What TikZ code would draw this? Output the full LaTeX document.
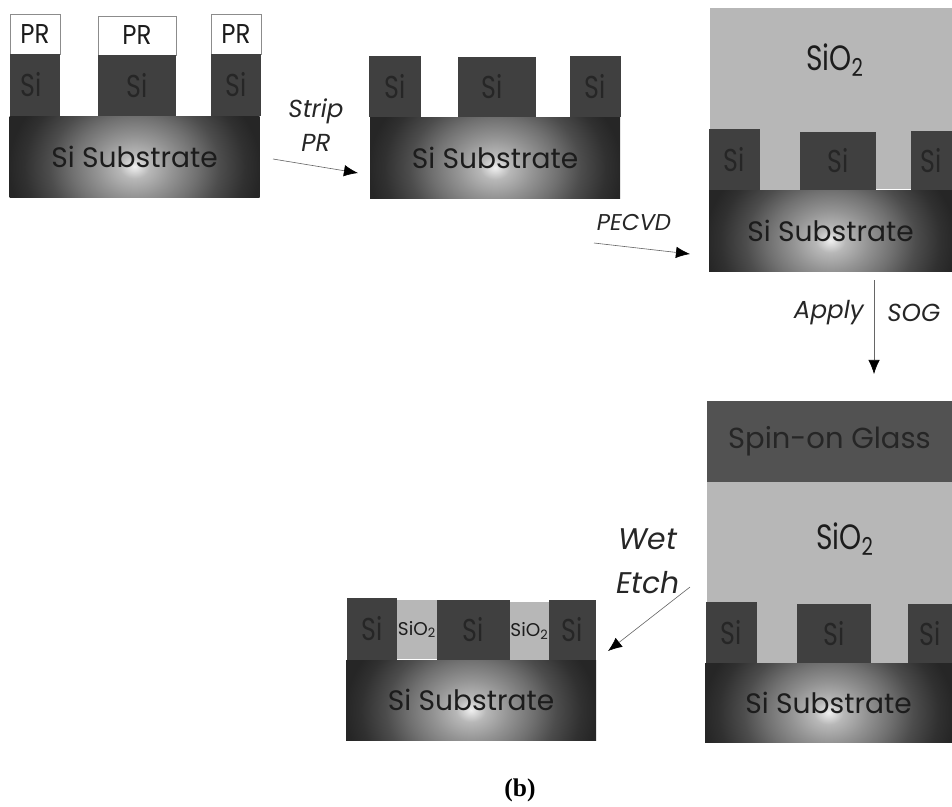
\documentclass[tikz,border=0pt]{standalone}
\usepackage{fontspec}
\setmainfont{Poppins}
\newfontfamily\tallfont{Poppins}[FakeStretch=0.8]
\newfontfamily\midfont{Poppins}[FakeStretch=0.9]
\newfontfamily\capfont{Liberation Serif}
\usepackage{xcolor}
\usetikzlibrary{arrows.meta}
\definecolor{sidark}{HTML}{404040}
\definecolor{oxgray}{HTML}{B7B7B7}
\definecolor{soggray}{HTML}{525252}
\definecolor{inkdark}{HTML}{1C1C1C}
\definecolor{inkdim}{HTML}{262626}
\pgfdeclareradialshading{subglow}{\pgfpoint{0bp}{0bp}}{%
  color(0bp)=(white!94!black);
  color(3bp)=(white!72!black);
  color(7.5bp)=(white!58!black);
  color(12.5bp)=(white!44!black);
  color(17bp)=(white!30!black);
  color(22bp)=(white!19!black);
  color(25bp)=(white!15!black);
  color(50bp)=(white!15!black)}
\tikzset{
  sibox/.style={fill=sidark},
  prbox/.style={draw=black!45, line width=0.3pt, fill=white},
  oxbox/.style={fill=oxgray},
  sogbox/.style={fill=soggray},
  subbox/.style={path picture={\shade[shading=subglow]
    ([yshift=-0.2cm]path picture bounding box.center) ++(-125,-100) rectangle ++(250,200);}},
  prlbl/.style={font=\midfont\fontsize{15.5}{18}\selectfont, text=inkdark, inner sep=0pt},
  silbl/.style={font=\tallfont\fontsize{18}{20}\selectfont, text=inkdim, inner sep=0pt},
  oxlbl/.style={font=\tallfont\fontsize{20}{22}\selectfont, text=inkdark, inner sep=0pt},
  sublbl/.style={font=\fontsize{16}{18}\selectfont, text=inkdark, inner sep=0pt},
  soglbl/.style={font=\fontsize{16.5}{18}\selectfont, text=inkdim, inner sep=0pt},
  smalllbl/.style={font=\fontsize{10.5}{12}\selectfont, text=inkdark, inner sep=0pt},
  steplbl/.style={font=\itshape\fontsize{14}{19}\selectfont, text=black!85, inner sep=0pt, align=center},
  flowarrow/.style={-{Latex[length=8pt,width=6.5pt,black]}, line width=0.35pt, draw=black!60},
}
\begin{document}
\begin{tikzpicture}[x=0.02cm, y=-0.02cm]
  \useasboundingbox (0,0) rectangle (952,806);

  % resist on silicon
  \filldraw[prbox] (10,14) rectangle (60,54) node[midway, prlbl] (prA) {PR};
  \filldraw[prbox] (98,16) rectangle (176,55) node[midway, prlbl] (prB) {PR};
  \filldraw[prbox] (211,14) rectangle (261,54) node[midway, prlbl] (prC) {PR};
  \fill[sibox] (10,54) rectangle (60,116) node[midway, silbl, xshift=-0.08cm] (siA) {Si};
  \fill[sibox] (98,55) rectangle (176,116) node[midway, silbl] (siB) {Si};
  \fill[sibox] (211,54) rectangle (261,116) node[midway, silbl] (siC) {Si};
  \path[subbox] (9,116) rectangle (260,197) node[midway, sublbl] (subA) {Si Substrate};

  % resist stripped
  \fill[sibox] (369,56) rectangle (421,117) node[midway, silbl] (siD) {Si};
  \fill[sibox] (458,57) rectangle (536,117) node[midway, silbl, xshift=-0.1cm] (siE) {Si};
  \fill[sibox] (570,56) rectangle (621,117) node[midway, silbl] (siF) {Si};
  \path[subbox] (369,117) rectangle (621,198) node[midway, sublbl] (subB) {Si Substrate};

  % oxide deposited
  \fill[oxbox] (710,8) rectangle (952,134);
  \node[oxlbl] (oxA) at (835,60) {SiO\textsubscript{2}};
  \fill[oxbox] (760,129) rectangle (800,190);
  \fill[oxbox] (876,129) rectangle (911,189);
  \fill[sibox] (709,129) rectangle (760,190) node[midway, silbl] (siG) {Si};
  \fill[sibox] (800,132) rectangle (876,190) node[midway, silbl] (siH) {Si};
  \fill[sibox] (911,131) rectangle (952,190) node[midway, silbl] (siI) {Si};
  \path[subbox] (709,190) rectangle (952,271) node[midway, sublbl] (subC) {Si Substrate};

  % spin-on glass on top
  \fill[sogbox] (707,401) rectangle (952,482) node[midway, soglbl] (sog) {Spin-on Glass};
  \fill[oxbox] (707,482) rectangle (952,604);
  \node[oxlbl] (oxB) at (845,539) {SiO\textsubscript{2}};
  \fill[oxbox] (757,602) rectangle (797,663);
  \fill[oxbox] (871,602) rectangle (908,663);
  \fill[sibox] (706,602) rectangle (757,663) node[midway, silbl] (siJ) {Si};
  \fill[sibox] (797,604) rectangle (871,663) node[midway, silbl] (siK) {Si};
  \fill[sibox] (908,604) rectangle (952,663) node[midway, silbl] (siL) {Si};
  \path[subbox] (705,663) rectangle (952,742) node[midway, sublbl] (subD) {Si Substrate};

  % after wet etch
  \fill[sibox] (347,598) rectangle (397,660) node[midway, silbl] (siM) {Si};
  \fill[oxbox] (397,600) rectangle (437,659) node[midway, smalllbl] (oxC) {SiO\textsubscript{2}};
  \fill[sibox] (437,600) rectangle (510,660) node[midway, silbl] (siN) {Si};
  \fill[oxbox] (510,602) rectangle (549,660) node[midway, smalllbl] (oxD) {SiO\textsubscript{2}};
  \fill[sibox] (549,600) rectangle (596,660) node[midway, silbl] (siO) {Si};
  \path[subbox] (346,660) rectangle (596,740) node[midway, sublbl] (subE) {Si Substrate};

  % process steps
  \coordinate (stripA) at (273,159);
  \coordinate (stripB) at (358,173);
  \draw[flowarrow] (stripA) -- (stripB);
  \node[steplbl] (strip) at (316,125) {Strip\\PR};

  \coordinate (pecvdA) at (594,243);
  \coordinate (pecvdB) at (690,254);
  \draw[flowarrow] (pecvdA) -- (pecvdB);
  \node[steplbl, font=\itshape\fontsize{13}{15}\selectfont] (pecvd) at (634,222) {PECVD};

  \coordinate (applyA) at (874,280);
  \coordinate (applyB) at (874,374);
  \draw[flowarrow] (applyA) -- (applyB);
  \node[steplbl, anchor=east] (apply) at (864,313) {Apply};
  \node[steplbl, anchor=west] (sogstep) at (887,313) {SOG};

  \coordinate (etchA) at (690,587);
  \coordinate (etchB) at (608,651);
  \draw[flowarrow] (etchA) -- (etchB);
  \node[steplbl, font=\itshape\fontsize{17}{25}\selectfont] (etch) at (648,561) {Wet\\Etch};

  \node[font=\capfont\bfseries\fontsize{14.5}{16}\selectfont] (cap) at (520,790) {(b)};
\end{tikzpicture}
\end{document}
